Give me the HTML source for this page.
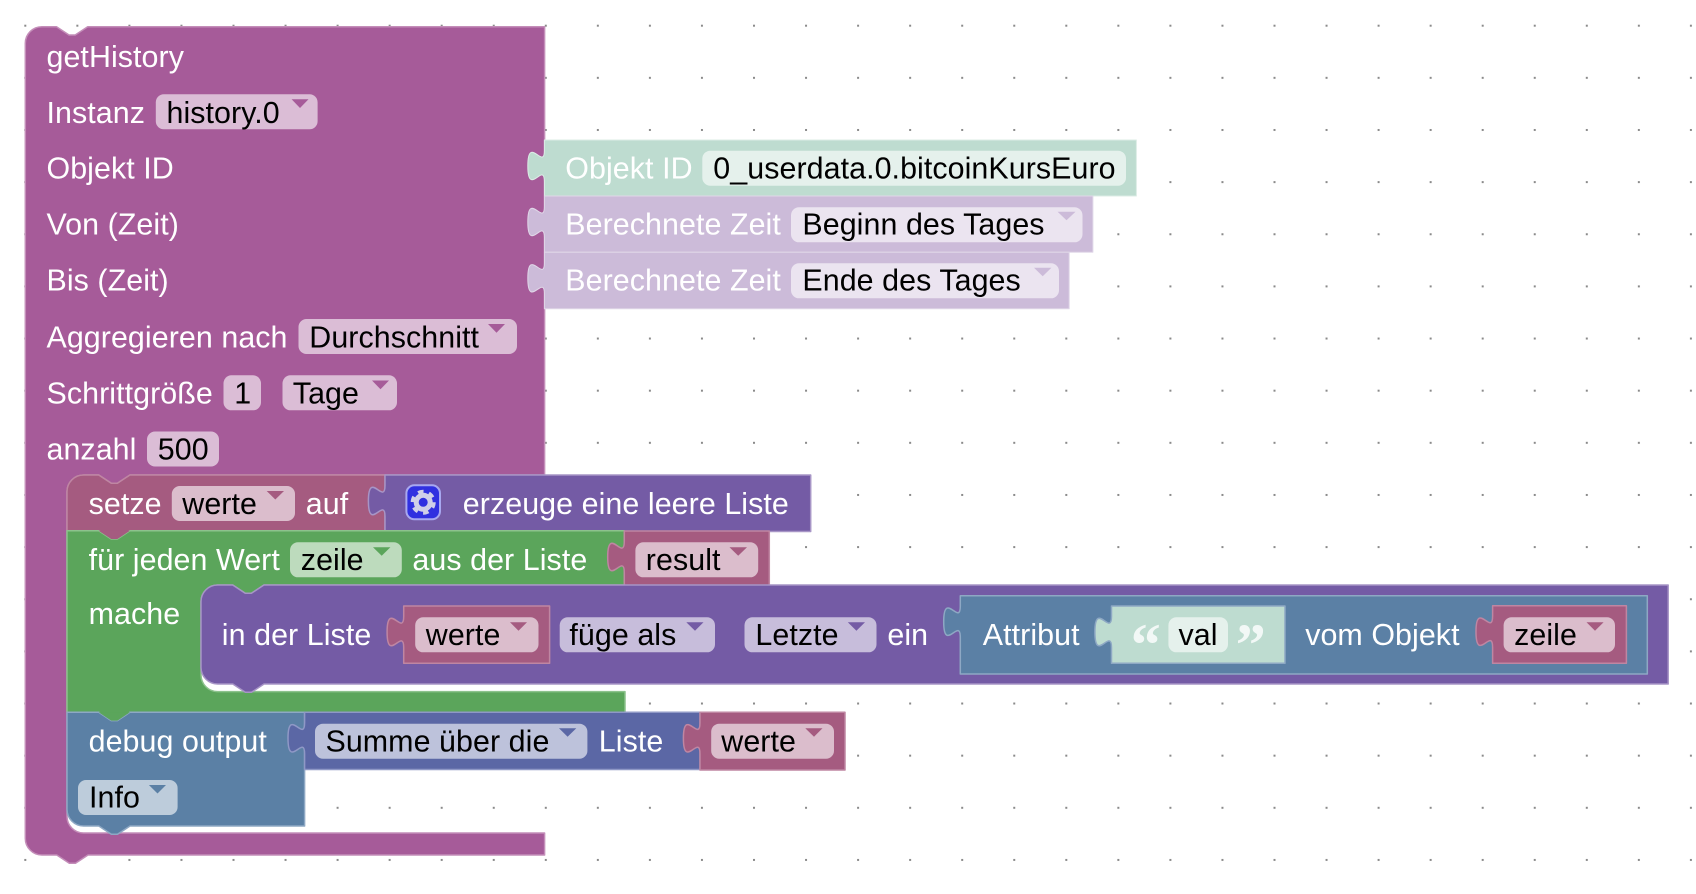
<!DOCTYPE html>
<html lang="de">
<head>
<meta charset="utf-8">
<title>getHistory</title>
<style>
html,body{margin:0;padding:0;background:#fff;width:1696px;height:894px;overflow:hidden}
svg{display:block}
text{font-family:"Liberation Sans",Arial,sans-serif;font-size:30.4px;fill:#fff;letter-spacing:.07px;transform:translate(-.2px,.9px)}
text.f{fill:#000}
rect.f{fill:#fff;fill-opacity:.6}
path{stroke-width:1.5;stroke-linejoin:round}
.main{fill:#a65b99;stroke:#c48eb9}
.var{fill:#a55b80;stroke:#bf86a2}
.loop{fill:#5ba55b;stroke:#8cc28c}
.list{fill:#745ba5;stroke:#a795c6}
.txt{fill:#5b80a5;stroke:#8ea8c4}
.math{fill:#5b67a5;stroke:#8f98c6}
.sid{fill:#bedcd0;stroke:#dcece6;stroke-width:1}
.sti{fill:#ccbbd9;stroke:#e0d7e8;stroke-width:1}
.stt{fill:#bedcd0;stroke:#8ea8c4}
</style>
</head>
<body>
<svg xmlns="http://www.w3.org/2000/svg" width="1696" height="894" viewBox="0 0 1696 894">
<defs>
<pattern id="g" patternUnits="userSpaceOnUse" x="24.3" y="24.7" width="52.05" height="52.14">
<rect x="0" y="0" width="2" height="2" fill="#8a8a8a"/>
</pattern>
</defs>
<rect x="24" y="24" width="1672" height="838" fill="url(#g)"/>

<!-- main block -->
<path class="main" d="M25.3,43.3 A16.6,16.6 0 0 1 41.9,26.7 H56.5 l12.5,8.3 6.2,0 12.5,-8.3 H544.6 V475 H130 l-12.5,8.3 -6.2,0 -12.5,-8.3 H83.6 A16.6,16.6 0 0 0 67,491.6 V816.4 A16.6,16.6 0 0 0 83.6,833 H544.6 V855 H88 l-12.5,8.3 -6.2,0 -12.5,-8.3 H41.9 A16.6,16.6 0 0 1 25.3,838.4 Z"/>
<text x="46.7" y="65.9">getHistory</text>
<text x="46.7" y="121.9">Instanz</text>
<rect class="f" x="155.8" y="94.3" width="161.8" height="35" rx="8"/>
<text class="f" x="166.7" y="121.9">history.0</text>
<polygon points="291.6,99.3 308.5,99.3 300,108" fill="#a65b99"/>
<text x="46.7" y="177.5">Objekt ID</text>
<text x="46.7" y="233.7">Von (Zeit)</text>
<text x="46.7" y="289.7">Bis (Zeit)</text>
<text x="46.7" y="346.5">Aggregieren nach</text>
<rect class="f" x="298.5" y="319" width="218.5" height="35" rx="8"/>
<text class="f" x="309.5" y="346.5">Durchschnitt</text>
<polygon points="488,324 505,324 496.5,332.7" fill="#a65b99"/>
<text x="46.7" y="402.7">Schrittgröße</text>
<rect class="f" x="223.5" y="375.3" width="37.5" height="35" rx="8"/>
<text class="f" x="234.5" y="402.7">1</text>
<rect class="f" x="282.5" y="375.3" width="114.5" height="35" rx="8"/>
<text class="f" x="293" y="402.7">Tage</text>
<polygon points="372,380.5 389,380.5 380.5,389.2" fill="#a65b99"/>
<text x="46.7" y="458.7">anzahl</text>
<rect class="f" x="147" y="431.5" width="72" height="35" rx="8"/>
<text class="f" x="158" y="458.7">500</text>

<!-- Objekt ID -->
<path class="sid" d="M544.4,140 H1136.4 V196 H544.4 V181.6 c0,-20.8 -16.6,16.6 -16.6,-15.6 s16.6,5.2 16.6,-15.6 Z"/>
<text x="565.5" y="177.5">Objekt ID</text>
<rect class="f" x="702.3" y="150.7" width="423.7" height="35" rx="8"/>
<text class="f" x="713.5" y="177.5">0_userdata.0.bitcoinKursEuro</text>

<!-- Berechnete Zeit 1 -->
<path class="sti" d="M544.4,196 H1092.9 V252.3 H544.4 V237.6 c0,-20.8 -16.6,16.6 -16.6,-15.6 s16.6,5.2 16.6,-15.6 Z"/>
<text x="565.5" y="233.7">Berechnete Zeit</text>
<rect class="f" x="791" y="207.3" width="291.5" height="35" rx="8"/>
<text class="f" x="802.6" y="233.7">Beginn des Tages</text>
<polygon points="1057.6,211.7 1075.5,211.7 1066.5,220.3" fill="#ccbbd9"/>

<!-- Berechnete Zeit 2 -->
<path class="sti" d="M544.4,252.3 H1069.2 V308.7 H544.4 V293.9 c0,-20.8 -16.6,16.6 -16.6,-15.6 s16.6,5.2 16.6,-15.6 Z"/>
<text x="565.5" y="289.7">Berechnete Zeit</text>
<rect class="f" x="791" y="263.3" width="268" height="35" rx="8"/>
<text class="f" x="802.6" y="289.7">Ende des Tages</text>
<polygon points="1034,267.7 1051.4,267.7 1042.7,276.3" fill="#ccbbd9"/>

<!-- setze -->
<path class="var" d="M67,491.6 A16.6,16.6 0 0 1 83.6,475 H98.7 l12.5,8.3 6.2,0 12.5,-8.3 H385 V530.7 H130 l-12.5,8.3 -6.2,0 -12.5,-8.3 H67 Z"/>
<text x="88.8" y="513.3">setze</text>
<rect class="f" x="171.8" y="486" width="123.2" height="35" rx="8"/>
<text class="f" x="182.5" y="513.3">werte</text>
<polygon points="266.7,491 284,491 275.3,499.5" fill="#a55b80"/>
<text x="306" y="513.3">auf</text>

<!-- erzeuge -->
<path class="list" d="M385,475 H810.7 V531.5 H385 V516.6 c0,-20.8 -16.6,16.6 -16.6,-15.6 s16.6,5.2 16.6,-15.6 Z"/>
<rect x="406.4" y="485.3" width="33.6" height="34" rx="8" fill="#3030e0" stroke="#a8a8f0" stroke-width="2"/>
<circle cx="423.2" cy="502.3" r="7" fill="none" stroke="#cfcfe8" stroke-width="5"/>
<circle cx="423.2" cy="502.3" r="10.5" fill="none" stroke="#cfcfe8" stroke-width="4" stroke-dasharray="5.5 5.5"/>
<text x="463" y="513.3">erzeuge eine leere Liste</text>

<!-- für jeden -->
<path class="loop" d="M67,530.7 H98.7 l12.5,8.3 6.2,0 12.5,-8.3 H624.3 V585 H264 l-12.5,8.3 -6.2,0 -12.5,-8.3 H217.6 A16.6,16.6 0 0 0 201,601.6 V675 A16.6,16.6 0 0 0 217.6,691.6 H625 V712.3 H130 l-12.5,8.3 -6.2,0 -12.5,-8.3 H67 Z"/>
<path d="M98.7,530.7 l12.5,8.3 6.2,0 12.5,-8.3 Z" fill="#a55b80" stroke="none"/>
<text x="88.8" y="569.3">für jeden Wert</text>
<rect class="f" x="290" y="542.3" width="111.8" height="35" rx="8"/>
<text class="f" x="301" y="569.3">zeile</text>
<polygon points="373,547.3 390.4,547.3 381.7,555.8" fill="#5ba55b"/>
<text x="412.6" y="569.3">aus der Liste</text>
<text x="88.8" y="623.3">mache</text>

<!-- result -->
<path class="var" d="M624.3,531 H769.3 V585.5 H624.3 V572.6 c0,-20.8 -16.6,16.6 -16.6,-15.6 s16.6,5.2 16.6,-15.6 Z"/>
<rect class="f" x="635.4" y="542.3" width="122.8" height="35" rx="8"/>
<text class="f" x="646" y="569.3">result</text>
<polygon points="729.5,547.3 747,547.3 738.2,555.8" fill="#a55b80"/>

<!-- in der Liste -->
<path class="list" d="M201,601.6 A16.6,16.6 0 0 1 217.6,585 H232.7 l12.5,8.3 6.2,0 12.5,-8.3 H1668.2 V684 H264 l-12.5,8.3 -6.2,0 -12.5,-8.3 H217.6 A16.6,16.6 0 0 1 201,667.4 Z"/>
<text x="222" y="644.3">in der Liste</text>
<path class="var" d="M403.7,606 H549.6 V663.3 H403.7 V647.6 c0,-20.8 -16.6,16.6 -16.6,-15.6 s16.6,5.2 16.6,-15.6 Z"/>
<rect class="f" x="415.2" y="617.3" width="123.3" height="35" rx="8"/>
<text class="f" x="426" y="644.3">werte</text>
<polygon points="510,622.3 527,622.3 518.5,630.8" fill="#a55b80"/>
<rect class="f" x="559.7" y="617.3" width="155.3" height="35" rx="8"/>
<text class="f" x="569.6" y="644.3">füge als</text>
<polygon points="686.3,622.3 703.5,622.3 695,630.8" fill="#745ba5"/>
<rect class="f" x="744.5" y="617.3" width="132" height="35" rx="8"/>
<text class="f" x="755.6" y="644.3">Letzte</text>
<polygon points="847.8,622.3 865,622.3 856.4,630.8" fill="#745ba5"/>
<text x="887.6" y="644.3">ein</text>

<!-- Attribut -->
<path class="txt" d="M960.3,595.7 H1647.3 V674 H960.3 V637.3 c0,-20.8 -16.6,16.6 -16.6,-15.6 s16.6,5.2 16.6,-15.6 Z"/>
<text x="983" y="644.3">Attribut</text>
<path class="stt" d="M1111.5,606 H1285 V663.3 H1111.5 V647.6 c0,-20.8 -16.6,16.6 -16.6,-15.6 s16.6,5.2 16.6,-15.6 Z"/>
<text x="1131" y="664" style="font-family:'Liberation Serif',serif;font-weight:bold;font-size:60px" fill-opacity=".8">“</text>
<rect class="f" x="1168.4" y="617.3" width="59.6" height="35" rx="8"/>
<text class="f" x="1178.7" y="644.3">val</text>
<text x="1236" y="664" style="font-family:'Liberation Serif',serif;font-weight:bold;font-size:60px" fill-opacity=".8">”</text>
<text x="1305.4" y="644.3">vom Objekt</text>
<path class="var" d="M1492.6,605.7 H1626.4 V663.3 H1492.6 V647.3 c0,-20.8 -16.6,16.6 -16.6,-15.6 s16.6,5.2 16.6,-15.6 Z"/>
<rect class="f" x="1503.6" y="617.3" width="111.4" height="35" rx="8"/>
<text class="f" x="1514.3" y="644.3">zeile</text>
<polygon points="1586.5,622.3 1603.6,622.3 1595,630.8" fill="#a55b80"/>

<!-- debug output -->
<path class="txt" d="M67,712.3 H98.7 l12.5,8.3 6.2,0 12.5,-8.3 H304.6 V826 H130 l-12.5,8.3 -6.2,0 -12.5,-8.3 H83.6 A16.6,16.6 0 0 1 67,809.4 Z"/>
<path d="M98.7,712.3 l12.5,8.3 6.2,0 12.5,-8.3 Z" fill="#5ba55b" stroke="none"/>
<text x="88.8" y="750.7">debug output</text>
<rect class="f" x="78" y="780" width="99.6" height="35" rx="8"/>
<text class="f" x="89.2" y="806.7">Info</text>
<polygon points="148.9,785 166,785 157.5,793.5" fill="#5b80a5"/>

<!-- Summe -->
<path class="math" d="M304.6,712.3 H700 V769.5 H304.6 V753.9 c0,-20.8 -16.6,16.6 -16.6,-15.6 s16.6,5.2 16.6,-15.6 Z"/>
<rect class="f" x="315" y="723.7" width="272.4" height="35" rx="8"/>
<text class="f" x="325.7" y="750.7">Summe über die</text>
<polygon points="559,728.3 576.3,728.3 567.6,736.8" fill="#5b67a5"/>
<text x="599" y="750.7">Liste</text>

<!-- werte -->
<path class="var" d="M700,712.3 H845 V770 H700 V753.9 c0,-20.8 -16.6,16.6 -16.6,-15.6 s16.6,5.2 16.6,-15.6 Z"/>
<rect class="f" x="711.2" y="723.7" width="122.8" height="35" rx="8"/>
<text class="f" x="721.5" y="750.7">werte</text>
<polygon points="805.3,728.3 822.5,728.3 814,736.8" fill="#a55b80"/>
</svg>
</body>
</html>
